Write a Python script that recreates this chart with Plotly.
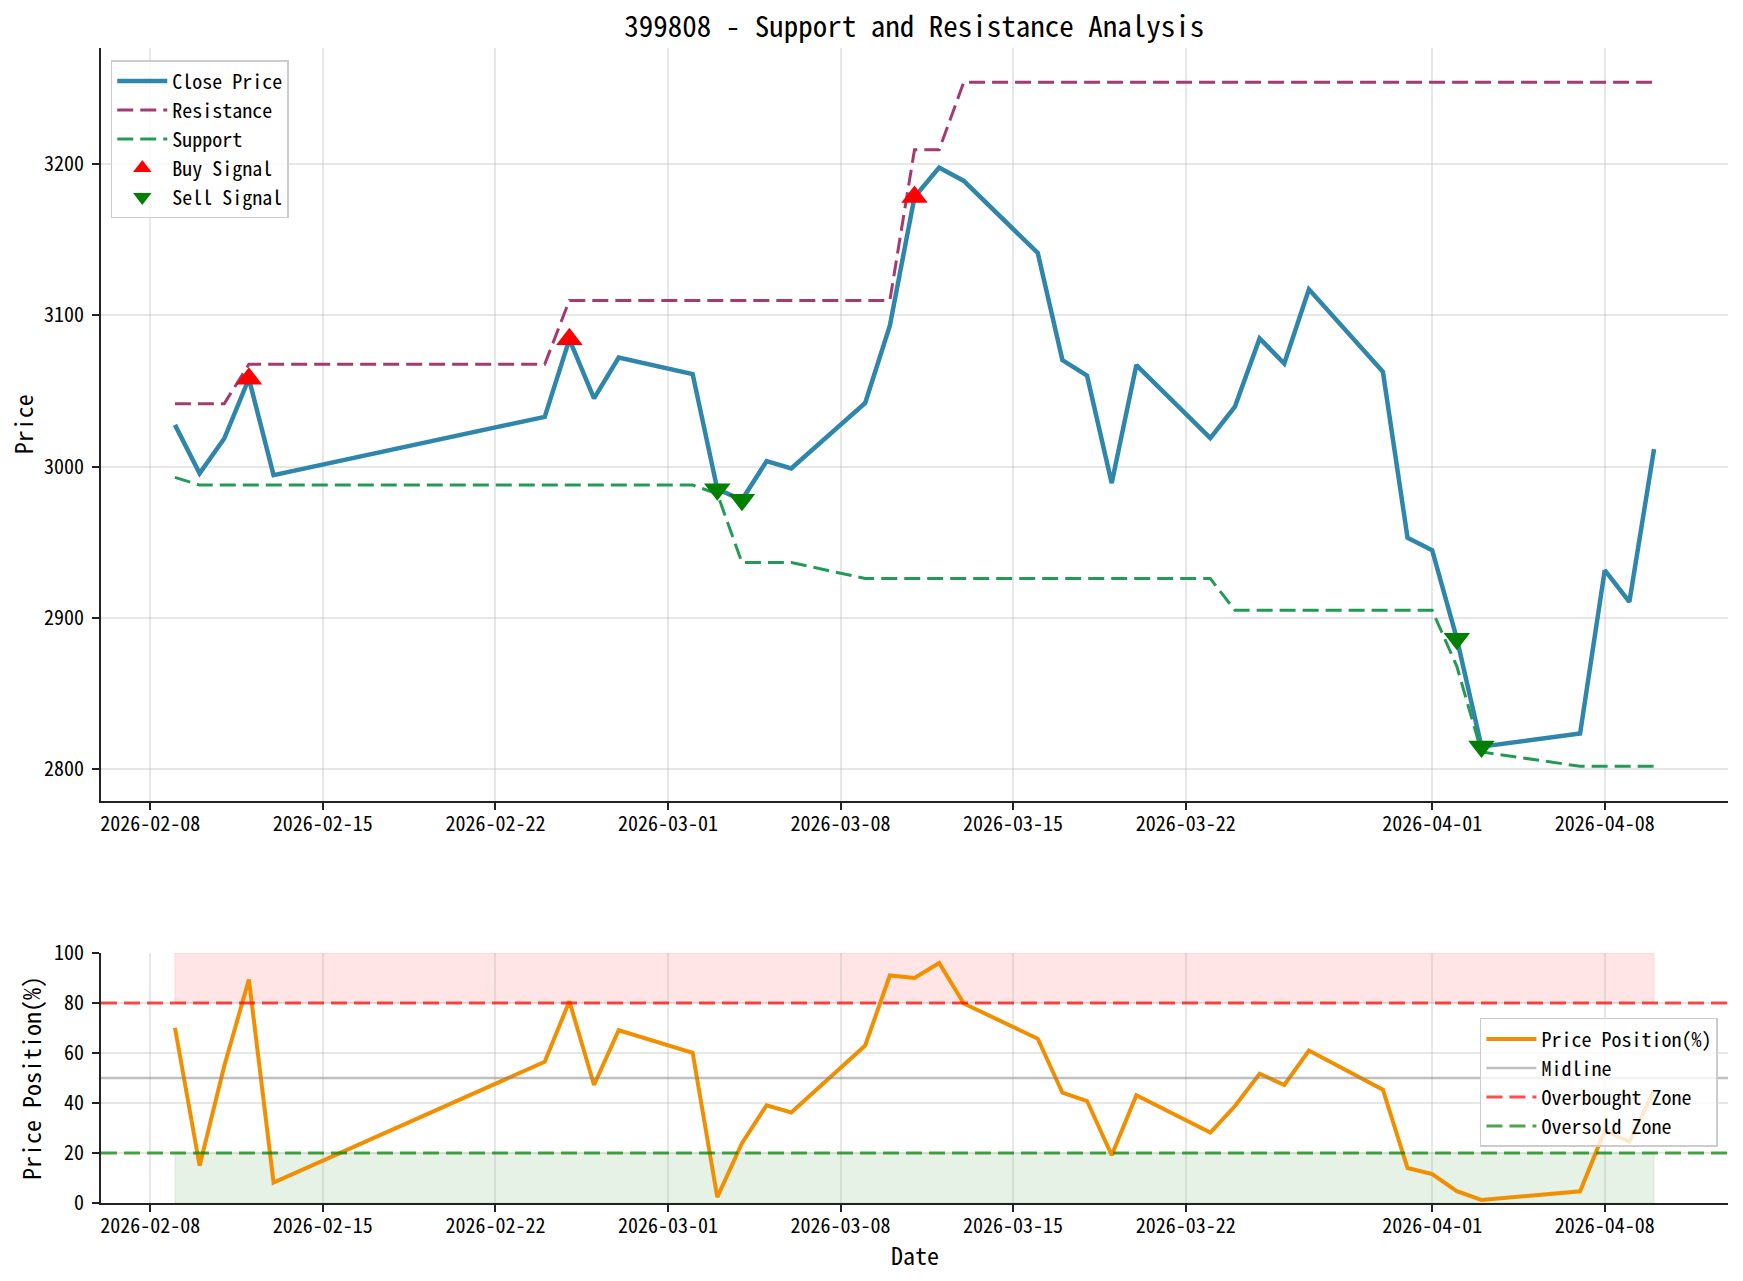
import plotly.graph_objects as go
import pandas as pd

# ---------------- data ----------------
dates = [
    "2026-02-09", "2026-02-10", "2026-02-11", "2026-02-12", "2026-02-13",
    "2026-02-24", "2026-02-25", "2026-02-26", "2026-02-27",
    "2026-03-02", "2026-03-03", "2026-03-04", "2026-03-05", "2026-03-06",
    "2026-03-09", "2026-03-10", "2026-03-11", "2026-03-12", "2026-03-13",
    "2026-03-16", "2026-03-17", "2026-03-18", "2026-03-19", "2026-03-20",
    "2026-03-23", "2026-03-24", "2026-03-25", "2026-03-26", "2026-03-27",
    "2026-03-30", "2026-03-31", "2026-04-01", "2026-04-02", "2026-04-03",
    "2026-04-07", "2026-04-08", "2026-04-09", "2026-04-10",
]
close = [
    3027.5, 2995.5, 3018.5, 3058.0, 2994.3,
    3032.8, 3084.0, 3045.0, 3072.0,
    3061.0, 2985.0, 2978.0, 3003.5, 2998.7,
    3042.0, 3093.0, 3178.0, 3197.4, 3188.6,
    3141.0, 3070.3, 3060.0, 2989.0, 3067.0,
    3018.7, 3039.6, 3084.6, 3068.0, 3117.0,
    3062.6, 2953.0, 2944.7, 2886.3, 2815.0,
    2823.6, 2931.5, 2910.6, 3011.5,
]
resistance = [
    3041.5, 3041.5, 3041.5, 3067.5, 3067.5,
    3067.5, 3109.7, 3109.7, 3109.7,
    3109.7, 3109.7, 3109.7, 3109.7, 3109.7,
    3109.7, 3109.7, 3209.2, 3209.2, 3253.8,
    3253.8, 3253.8, 3253.8, 3253.8, 3253.8,
    3253.8, 3253.8, 3253.8, 3253.8, 3253.8,
    3253.8, 3253.8, 3253.8, 3253.8, 3253.8,
    3253.8, 3253.8, 3253.8, 3253.8,
]
support = [
    2992.8, 2987.7, 2987.7, 2987.7, 2987.7,
    2987.7, 2987.7, 2987.7, 2987.7,
    2987.7, 2982.0, 2936.6, 2936.6, 2936.6,
    2926.0, 2926.0, 2926.0, 2926.0, 2926.0,
    2926.0, 2926.0, 2926.0, 2926.0, 2926.0,
    2926.0, 2905.0, 2905.0, 2905.0, 2905.0,
    2905.0, 2905.0, 2905.0, 2868.0, 2811.5,
    2802.0, 2802.0, 2802.0, 2802.0,
]
position = [
    70.1, 14.9, 54.8, 89.4, 8.2,
    56.5, 80.7, 47.2, 69.1,
    60.1, 2.3, 23.9, 39.1, 36.2,
    63.0, 91.0, 90.0, 96.0, 79.8,
    65.7, 44.1, 40.8, 19.1, 43.1,
    28.2, 38.8, 51.7, 47.2, 61.0,
    45.3, 14.0, 11.6, 4.7, 1.2,
    4.7, 28.9, 24.5, 45.0,
]
buy_dates = ["2026-02-12", "2026-02-25", "2026-03-11"]
buy_prices = [3058.0, 3084.0, 3178.0]
sell_dates = ["2026-03-03", "2026-03-04", "2026-04-02", "2026-04-03"]
sell_prices = [2985.0, 2978.0, 2886.3, 2815.0]

date_ticks = ["2026-02-08", "2026-02-15", "2026-02-22", "2026-03-01", "2026-03-08",
              "2026-03-15", "2026-03-22", "2026-04-01", "2026-04-08"]
price_ticks = [2800, 2900, 3000, 3100, 3200]
position_ticks = [0, 20, 40, 60, 80, 100]

overbought_level = 80
oversold_level = 20
mid_level = 50
position_max = 100
position_min = 0

title_text = "399808 - Support and Resistance Analysis"

# ---------------- styling ----------------
FONT = "Noto Sans Mono CJK SC, DejaVu Sans Mono"
C_CLOSE = "#2E86AB"
C_RES = "#A23B72"
C_SUP = "#239B56"
C_POS = "#F18F01"
DASH = "16px,7px"
GRID = "rgba(176,176,176,0.3)"
AXC = "#222222"

d = pd.to_datetime(dates)
x_range = [(d[0] - pd.Timedelta(days=3)).strftime("%Y-%m-%d"),
           (d[-1] + pd.Timedelta(days=3)).strftime("%Y-%m-%d")]
lo = min(support + close)
hi = max(resistance + close)
pad = 0.05 * (hi - lo)
y_range = [lo - pad, hi + pad]

fig = go.Figure()

fig.add_trace(go.Scatter(x=dates, y=close, mode="lines", name="Close Price",
                         line=dict(color=C_CLOSE, width=4.5),
                         xaxis="x", yaxis="y", legend="legend"))
fig.add_trace(go.Scatter(x=dates, y=resistance, mode="lines", name="Resistance",
                         line=dict(color=C_RES, width=3, dash=DASH),
                         xaxis="x", yaxis="y", legend="legend"))
fig.add_trace(go.Scatter(x=dates, y=support, mode="lines", name="Support",
                         line=dict(color=C_SUP, width=3, dash=DASH),
                         xaxis="x", yaxis="y", legend="legend"))
fig.add_trace(go.Scatter(x=buy_dates, y=buy_prices, mode="markers", name="Buy Signal",
                         marker=dict(symbol="triangle-up", size=23, color="red",
                                     line=dict(width=0)),
                         xaxis="x", yaxis="y", legend="legend"))
fig.add_trace(go.Scatter(x=sell_dates, y=sell_prices, mode="markers", name="Sell Signal",
                         marker=dict(symbol="triangle-down", size=23, color="green",
                                     line=dict(width=0)),
                         xaxis="x", yaxis="y", legend="legend"))

fig.add_trace(go.Scatter(x=dates, y=position, mode="lines", name="Price Position(%)",
                         line=dict(color=C_POS, width=4),
                         xaxis="x2", yaxis="y2", legend="legend2"))

shapes = [
    dict(type="rect", xref="x2", yref="y2", x0=dates[0], x1=dates[-1],
         y0=overbought_level, y1=position_max, fillcolor="rgba(255,0,0,0.1)",
         line=dict(width=1, color="rgba(255,0,0,0.1)"), layer="below"),
    dict(type="rect", xref="x2", yref="y2", x0=dates[0], x1=dates[-1],
         y0=position_min, y1=oversold_level, fillcolor="rgba(0,128,0,0.1)",
         line=dict(width=1, color="rgba(0,128,0,0.1)"), layer="below"),
    dict(type="line", xref="x2 domain", yref="y2", x0=0, x1=1, y0=mid_level, y1=mid_level,
         line=dict(color="rgba(128,128,128,0.5)", width=2.5),
         showlegend=True, name="Midline", legend="legend2"),
    dict(type="line", xref="x2 domain", yref="y2", x0=0, x1=1,
         y0=overbought_level, y1=overbought_level,
         line=dict(color="rgba(255,0,0,0.7)", width=3, dash=DASH),
         showlegend=True, name="Overbought Zone", legend="legend2"),
    dict(type="line", xref="x2 domain", yref="y2", x0=0, x1=1,
         y0=oversold_level, y1=oversold_level,
         line=dict(color="rgba(0,128,0,0.7)", width=3, dash=DASH),
         showlegend=True, name="Oversold Zone", legend="legend2"),
]

tickfont = dict(family=FONT, size=20, color="black")
titlefont = dict(family=FONT, size=24, color="black")

xcommon = dict(type="date", range=x_range, tickformat="%Y-%m-%d",
               tickmode="array", tickvals=date_ticks,
               showgrid=True, gridcolor=GRID, gridwidth=1.5,
               showline=True, linecolor=AXC, linewidth=2, mirror=False,
               ticks="outside", ticklen=7, tickwidth=2, tickcolor=AXC,
               tickfont=tickfont, zeroline=False, automargin=False,
               ticklabelstandoff=-3)
ycommon = dict(showgrid=True, gridcolor=GRID, gridwidth=1.5,
               showline=True, linecolor=AXC, linewidth=2, mirror=False,
               ticks="outside", ticklen=7, tickwidth=2, tickcolor=AXC,
               tickfont=tickfont, zeroline=False, automargin=False,
               ticklabelstandoff=4, tickmode="array")

legend_common = dict(font=dict(family=FONT, size=20, color="black"),
                     bgcolor="rgba(255,255,255,0.8)", bordercolor="#cccccc",
                     borderwidth=1.5, itemwidth=50)

fig.update_layout(
    width=1743, height=1281,
    margin=dict(l=101, r=15, t=48, b=78, pad=0),
    paper_bgcolor="white", plot_bgcolor="white",
    title=dict(text=title_text, x=0.5245, xanchor="center", y=1 - 27 / 1281,
               yanchor="middle", font=dict(family=FONT, size=29, color="black")),
    xaxis=dict(xcommon, domain=[0, 1], anchor="y"),
    yaxis=dict(ycommon, domain=[0.34848, 1], range=y_range, tickvals=price_ticks,
               title=dict(text="Price", font=titlefont, standoff=4)),
    xaxis2=dict(xcommon, domain=[0, 1], anchor="y2"),
    yaxis2=dict(ycommon, domain=[0, 0.21645], range=[position_min, position_max],
                tickvals=position_ticks,
                title=dict(text="Price Position(%)", font=titlefont, standoff=6)),
    legend=dict(legend_common, x=0.006, y=0.9896, xanchor="left", yanchor="top"),
    legend2=dict(legend_common, x=0.9938, y=0.1602, xanchor="right", yanchor="top"),
    shapes=shapes,
    annotations=[dict(text="Date", xref="x2 domain", yref="paper", x=0.5, y=-51 / 1155,
                      xanchor="center", yanchor="middle", showarrow=False,
                      font=titlefont)],
    showlegend=True,
)

fig.write_html("out.html")
